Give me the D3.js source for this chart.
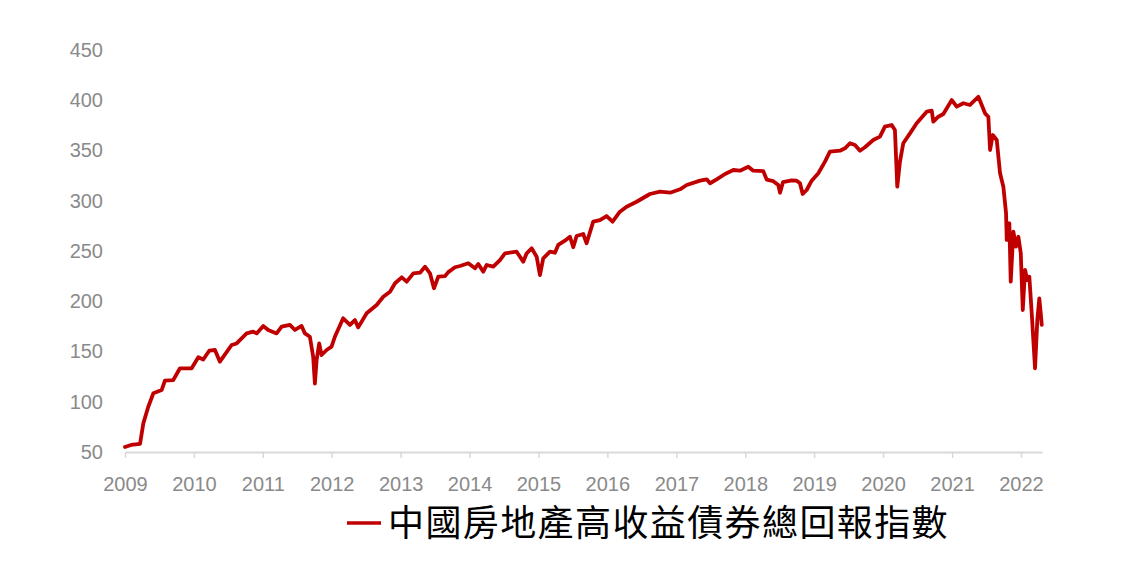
<!DOCTYPE html>
<html>
<head>
<meta charset="utf-8">
<script src="https://cdn.jsdelivr.net/npm/d3@7"></script>
<style>
  html, body { margin: 0; padding: 0; background: #fff; }
  svg { display: block; }
</style>
</head>
<body>
<svg id="chart" width="1140" height="572"></svg>
<script>
// ---- Data ----
const seriesName = "中國房地產高收益債券總回報指數";
const yTicks = [50, 100, 150, 200, 250, 300, 350, 400, 450];
const xTickYears = [2009, 2010, 2011, 2012, 2013, 2014, 2015, 2016, 2017, 2018, 2019, 2020, 2021, 2022];
// dates as decimal years
const dates = [
  2009.000, 2009.087, 2009.218, 2009.266, 2009.338, 2009.411, 2009.533, 2009.580, 2009.701, 2009.798,
  2009.968, 2010.064, 2010.136, 2010.223, 2010.306, 2010.378, 2010.548, 2010.621, 2010.766, 2010.862,
  2010.911, 2011.007, 2011.079, 2011.201, 2011.274, 2011.394, 2011.467, 2011.564, 2011.612, 2011.684,
  2011.732, 2011.757, 2011.782, 2011.819, 2011.854, 2011.927, 2011.999, 2012.047, 2012.167, 2012.265,
  2012.337, 2012.385, 2012.507, 2012.652, 2012.748, 2012.845, 2012.918, 2013.015, 2013.087, 2013.183,
  2013.280, 2013.353, 2013.425, 2013.483, 2013.546, 2013.643, 2013.691, 2013.788, 2013.861, 2013.981,
  2014.078, 2014.126, 2014.199, 2014.248, 2014.344, 2014.441, 2014.514, 2014.683, 2014.779, 2014.829,
  2014.901, 2014.974, 2015.021, 2015.069, 2015.167, 2015.239, 2015.287, 2015.384, 2015.457, 2015.505,
  2015.554, 2015.650, 2015.699, 2015.795, 2015.892, 2015.989, 2016.076, 2016.182, 2016.279, 2016.424,
  2016.617, 2016.763, 2016.908, 2017.053, 2017.150, 2017.343, 2017.440, 2017.488, 2017.585, 2017.706,
  2017.826, 2017.923, 2018.044, 2018.116, 2018.261, 2018.311, 2018.406, 2018.479, 2018.504, 2018.547,
  2018.674, 2018.746, 2018.794, 2018.833, 2018.891, 2018.964, 2019.060, 2019.157, 2019.229, 2019.375,
  2019.447, 2019.520, 2019.592, 2019.665, 2019.737, 2019.858, 2019.955, 2020.027, 2020.125, 2020.172,
  2020.206, 2020.245, 2020.293, 2020.390, 2020.487, 2020.632, 2020.705, 2020.728, 2020.801, 2020.873,
  2020.995, 2021.067, 2021.163, 2021.260, 2021.381, 2021.430, 2021.478, 2021.526, 2021.551, 2021.590,
  2021.648, 2021.696, 2021.744, 2021.783, 2021.793, 2021.831, 2021.851, 2021.889, 2021.928, 2021.962,
  2021.997, 2022.026, 2022.059, 2022.092, 2022.121, 2022.156, 2022.204, 2022.237, 2022.266, 2022.287,
  2022.301
];
const values = [
  55, 57, 58, 78.5, 95, 108.4, 111.7, 121, 121.6, 133.3,
  133.3, 144.2, 142, 150.8, 151.5, 139.9, 156.5, 158, 168, 169.7,
  168, 175.4, 171.4, 168, 174.7, 176.4, 171.4, 175.4, 168, 164.7,
  144.8, 118, 141.5, 158, 146.5, 151.5, 154.8, 164.7, 183, 176.4,
  181.3, 174, 188, 196.3, 204.5, 209.5, 217.9, 223.8, 219.5, 227.8,
  228.4, 234.4, 227.8, 212.9, 224.5, 225, 229, 233.8, 235.1, 237.8,
  232.8, 237.1, 229.4, 236.1, 234.4, 241, 247.7, 249.3, 239.4, 247.7,
  252.7, 244.3, 226.1, 242.7, 249.3, 248.3, 256, 260.3, 264.2, 253.7,
  264.9, 266.9, 257.7, 279.2, 280.8, 284.8, 279.2, 289.1, 294.1, 299,
  306.7, 309, 308, 311.4, 315.7, 320, 321.3, 317.4, 321.3, 326.6,
  330.6, 329.9, 333.9, 329.9, 329.5, 321, 319.5, 315.7, 308, 318.5,
  320.3, 320, 317.4, 306.7, 310.7, 320, 327.3, 338.9, 348.8, 349.8,
  352.2, 357.2, 355.5, 349.8, 353.2, 360.4, 363.8, 373.7, 375.4, 370.4,
  314, 338.9, 357.2, 367.1, 377.1, 388.6, 389.6, 378.7, 383.6, 386.3,
  400.2, 393.6, 397, 395.3, 403.5, 395.3, 387, 383.6, 350.5, 365.4,
  360.4, 327.3, 314, 287.5, 261, 277.6, 219.5, 269.2, 254.3, 264.2,
  247.7, 191.3, 231.1, 221.1, 224.5, 188, 133.3, 181.3, 202.9, 188,
  176.4
];

// ---- helpers ----
function yearToDate(yv) {
  const yr = Math.floor(yv);
  const a = new Date(yr, 0, 1).getTime();
  const b = new Date(yr + 1, 0, 1).getTime();
  return new Date(a + (yv - yr) * (b - a));
}
const data = dates.map((d, i) => ({ date: yearToDate(d), value: values[i] }));

// ---- layout ----
const svg = d3.select("#chart");
const plotLeft = 125, plotRight = 1042, plotTop = 50, plotBottom = 452;

const x = d3.scaleTime()
  .domain([new Date(xTickYears[0], 0, 1), yearToDate(2022.305)])
  .range([plotLeft, plotRight]);
const y = d3.scaleLinear()
  .domain([yTicks[0], yTicks[yTicks.length - 1]])
  .range([plotBottom, plotTop]);

const fontFamily = "'Liberation Sans', Arial, sans-serif";

// x axis
const xAxis = d3.axisBottom(x)
  .tickValues(xTickYears.map(yr => new Date(yr, 0, 1)))
  .tickFormat(d3.timeFormat("%Y"))
  .tickSizeInner(6)
  .tickSizeOuter(0);
const gx = svg.append("g").attr("transform", `translate(0,${plotBottom})`).call(xAxis);
gx.select(".domain").attr("stroke", "#d9d9d9").attr("stroke-width", 2);
gx.selectAll(".tick line").attr("stroke", "#d9d9d9").attr("stroke-width", 1.5);
gx.selectAll(".tick text")
  .attr("y", 38.5).attr("dy", null)
  .attr("fill", "#8a8a8a")
  .style("font-family", fontFamily)
  .style("font-size", "20px");

// y axis (labels only)
const yAxis = d3.axisLeft(y).tickValues(yTicks).tickSize(0).tickPadding(0);
const gy = svg.append("g").attr("transform", `translate(103,0)`).call(yAxis);
gy.select(".domain").remove();
gy.selectAll(".tick text")
  .attr("fill", "#8a8a8a")
  .style("font-family", fontFamily)
  .style("font-size", "20px");

// line
const line = d3.line()
  .x(d => x(d.date))
  .y(d => y(d.value))
  .curve(d3.curveLinear);
svg.append("path")
  .datum(data)
  .attr("d", line)
  .attr("fill", "none")
  .attr("stroke", "#c00000")
  .attr("stroke-width", 3.8)
  .attr("stroke-linejoin", "round")
  .attr("stroke-linecap", "round");

// legend
const lg = svg.append("g");
lg.append("line")
  .attr("x1", 347).attr("x2", 381)
  .attr("y1", 523).attr("y2", 523)
  .attr("stroke", "#c00000").attr("stroke-width", 3.5);
lg.append("text")
  .attr("x", 388).attr("y", 536)
  .attr("fill", "#000")
  .style("font-family", "'Noto Sans CJK TC', 'Noto Sans CJK SC', sans-serif")
  .style("font-size", "36px")
  .style("letter-spacing", "1.4px")
  .text(seriesName);
</script>
</body>
</html>
